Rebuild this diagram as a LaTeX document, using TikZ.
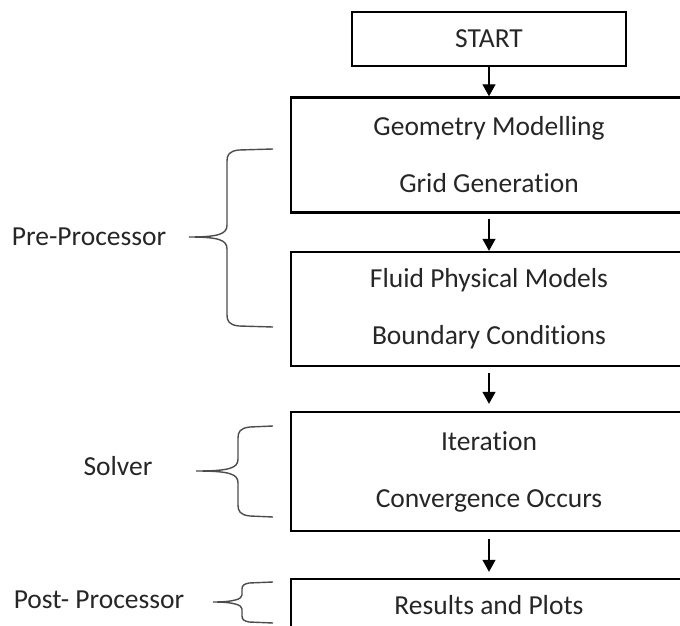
\documentclass[tikz,border=0pt]{standalone}
\usepackage{fontspec}
\setmainfont{Carlito}[Ligatures={NoCommon}]
\usepackage{tikz}
\usetikzlibrary{arrows.meta}

% left curly brace: top, tip, bottom, stem x, tip x, curl
\newcommand{\sidebrace}[6]{%
\draw[brace] (273,#1) -- (#4+#6,#1+1) .. controls (#4+2,#1+2) and (#4,#1+#6/2) .. (#4,#1+#6) -- (#4,#2-#6) .. controls (#4,#2-3) and (#4-8,#2) .. (#5,#2) .. controls (#4-8,#2) and (#4,#2+3) .. (#4,#2+#6) -- (#4,#3-#6) .. controls (#4,#3-#6/2) and (#4+2,#3-2) .. (#4+#6,#3-1) -- (273,#3);
}

\begin{document}
\begin{tikzpicture}[x=1bp,y=-1bp,
  stage/.style={draw,line width=2.4bp,minimum width=396bp,align=center,text=black!85,font=\fontsize{27.5bp}{57bp}\selectfont},
  side/.style={text=black!85,font=\fontsize{27.5bp}{30bp}\selectfont},
  flow/.style={-{Triangle[width=13bp,length=12bp]},line width=1.3bp},
  brace/.style={black!70,line width=1.4bp}]
\useasboundingbox (0,0) rectangle (680,626);

\node (start) at (489,39)[stage,minimum width=274bp,minimum height=54bp] {START};
\node (geo) at (489,155)[stage,minimum height=115bp] {Geometry Modelling\\Grid Generation};
\node (fluid) at (489,309)[stage,minimum height=114bp] {Fluid Physical Models\\Boundary Conditions};
\node (iter) at (489,471.5)[stage,minimum height=119bp] {Iteration\\Convergence Occurs};
\node (res) at (489,605)[stage,minimum height=52bp] {Results and Plots};

\draw [flow] (start) -- (geo);
\draw [flow,shorten <=5bp] (geo) -- (fluid);
\draw [flow,shorten <=6bp,shorten >=7bp] (fluid) -- (iter);
\draw [flow,shorten <=7bp,shorten >=6bp] (iter) -- (res);

\node (pre) at (89,237)[side] {Pre-Processor};
\node (solver) at (118,466)[side] {Solver};
\node (post) at (99,600)[side] {Post- Processor};

\sidebrace{149}{237}{327}{227}{189}{12}
\sidebrace{426}{471}{517}{238}{196}{12}
\sidebrace{582}{602}{623}{242}{213}{7}
\end{tikzpicture}
\end{document}
